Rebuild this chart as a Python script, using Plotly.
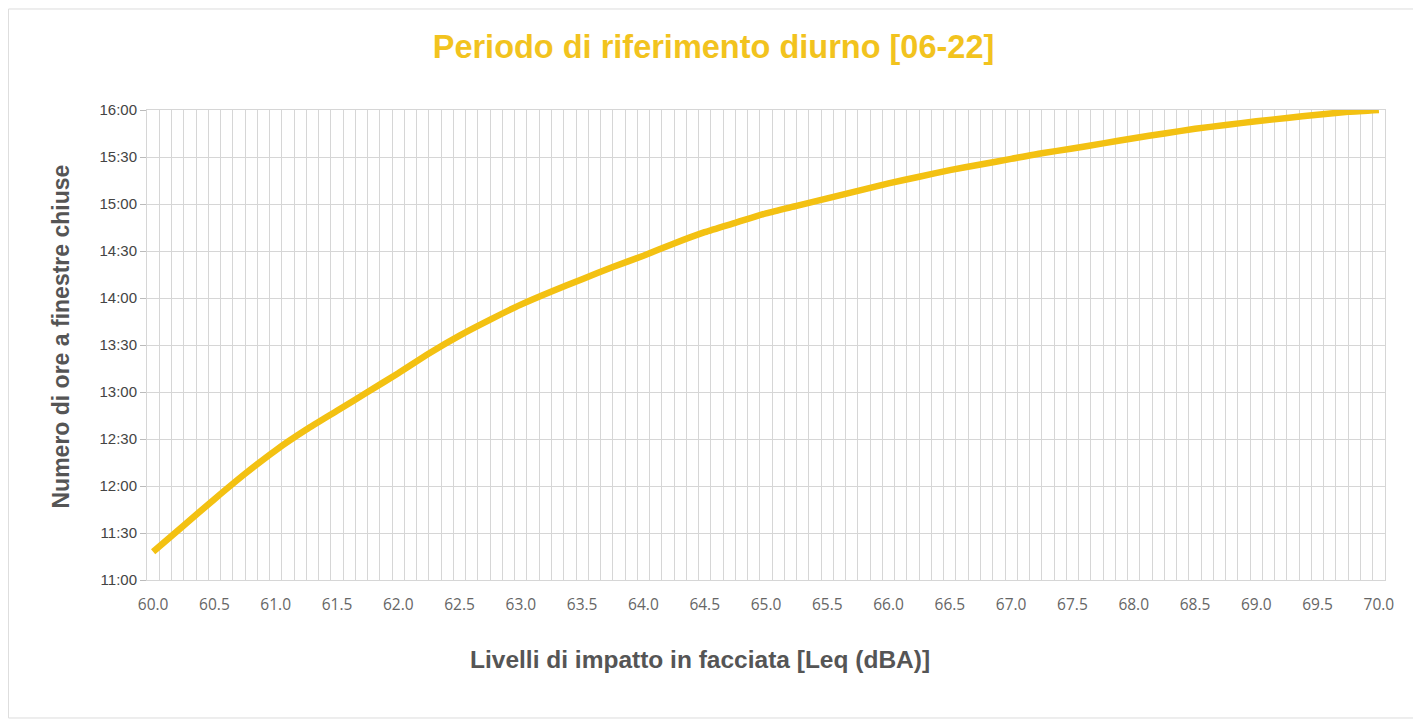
import plotly.graph_objects as go

# Data
levels_dba = [60.0, 60.25, 60.5, 60.75, 61.0, 61.25, 61.5, 61.75, 62.0, 62.25,
              62.5, 62.75, 63.0, 63.25, 63.5, 63.75, 64.0, 64.25, 64.5, 64.75,
              65.0, 65.25, 65.5, 65.75, 66.0, 66.25, 66.5, 66.75, 67.0, 67.25,
              67.5, 67.75, 68.0, 68.25, 68.5, 68.75, 69.0, 69.25, 69.5, 69.75, 70.0]
hours_closed = [11.30, 11.58, 11.86, 12.13, 12.38, 12.60, 12.80, 13.00, 13.20, 13.41,
                13.60, 13.77, 13.93, 14.07, 14.20, 14.33, 14.45, 14.58, 14.70, 14.80,
                14.90, 14.98, 15.06, 15.14, 15.22, 15.29, 15.36, 15.42, 15.48, 15.54,
                15.59, 15.645, 15.70, 15.75, 15.80, 15.84, 15.88, 15.915, 15.95, 15.98, 16.0]

x_tick_vals = [60.0, 60.5, 61.0, 61.5, 62.0, 62.5, 63.0, 63.5, 64.0, 64.5, 65.0,
               65.5, 66.0, 66.5, 67.0, 67.5, 68.0, 68.5, 69.0, 69.5, 70.0]
x_tick_text = ["60.0", "60.5", "61.0", "61.5", "62.0", "62.5", "63.0", "63.5", "64.0", "64.5",
               "65.0", "65.5", "66.0", "66.5", "67.0", "67.5", "68.0", "68.5", "69.0", "69.5", "70.0"]
y_tick_vals = [11.0, 11.5, 12.0, 12.5, 13.0, 13.5, 14.0, 14.5, 15.0, 15.5, 16.0]
y_tick_text = ["11:00", "11:30", "12:00", "12:30", "13:00", "13:30",
               "14:00", "14:30", "15:00", "15:30", "16:00"]

title_text = "Periodo di riferimento diurno [06-22]"
x_title = "Livelli di impatto in facciata [Leq (dBA)]"
y_title = "Numero di ore a finestre chiuse"

LINE_COLOR = "#F3C112"
TITLE_COLOR = "#F2C31E"
GRID = "#D6D6D6"
FONT = "Arial, Liberation Sans, sans-serif"

fig = go.Figure()
fig.add_trace(go.Scatter(
    x=levels_dba, y=hours_closed, mode="lines",
    line=dict(color=LINE_COLOR, width=6.5, shape="spline", smoothing=0.6),
    showlegend=False, hoverinfo="x+y",
))

fig.update_layout(
    width=1421, height=720,
    margin=dict(l=139, r=44, t=102, b=148),
    paper_bgcolor="white", plot_bgcolor="white",
    title=dict(text=title_text, x=0.4965, xanchor="center", y=0.946, yanchor="middle",
               font=dict(family=FONT, size=32.5, color=TITLE_COLOR, weight="bold")),
    xaxis=dict(
        range=[59.95, 70.05], tickmode="array", tickvals=x_tick_vals, ticktext=x_tick_text,
        showgrid=False, zeroline=False, ticks="", ticklabelstandoff=10,
        tickfont=dict(family="Open Sans, Arial, sans-serif", size=15.5, color="#666666"),
        showline=True, linecolor=GRID, linewidth=1, mirror=True,
        minor=dict(tickmode="linear", tick0=59.95, dtick=0.1, showgrid=True,
                   gridcolor=GRID, gridwidth=1, ticks=""),
    ),
    yaxis=dict(
        range=[11.0, 16.0], tickmode="array", tickvals=y_tick_vals, ticktext=y_tick_text,
        showgrid=True, gridcolor=GRID, gridwidth=1, zeroline=False,
        ticks="outside", ticklen=6, tickcolor="#BBBBBB",
        tickfont=dict(family=FONT, size=15, color="#444444"),
        showline=True, linecolor=GRID, linewidth=1, mirror=True,
    ),
    annotations=[
        dict(text=x_title, xref="paper", yref="paper", x=0.4467, y=-0.170,
             xanchor="center", yanchor="middle", showarrow=False,
             font=dict(family=FONT, size=24.5, color="#555555", weight="bold")),
        dict(text=y_title, xref="paper", yref="paper", x=-0.0695, y=0.518,
             xanchor="center", yanchor="middle", showarrow=False, textangle=-90,
             font=dict(family=FONT, size=23, color="#555555", weight="bold")),
    ],
    shapes=[
        dict(type="rect", xref="paper", yref="paper", x0=-0.1119, x1=1.0267,
             y0=-0.2936, y1=1.2149, line=dict(color="#DDDDDD", width=1),
             fillcolor="rgba(0,0,0,0)", layer="below"),
    ],
)

fig.write_html("out.html")
